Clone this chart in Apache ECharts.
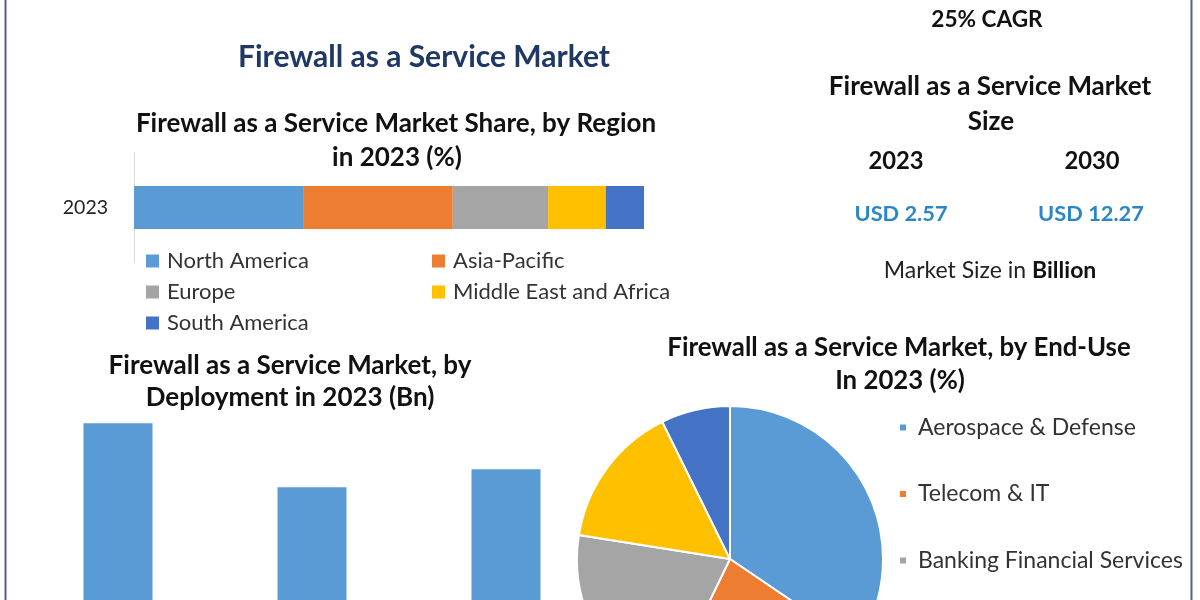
<!DOCTYPE html>
<html>
<head>
<meta charset="utf-8">
<script src="https://cdn.jsdelivr.net/npm/echarts@6/dist/echarts.min.js"></script>
<style>
html,body{margin:0;padding:0;background:#fff;}
#main{width:1200px;height:600px;}
</style>
</head>
<body>
<div id="main"></div>
<script>
// ---- data ----
var palette = ['#5b9bd5', '#ed7d31', '#a5a5a5', '#ffc000', '#4472c4'];

var regionYear = ['2023'];
var regionNames = ['North America', 'Asia-Pacific', 'Europe', 'Middle East and Africa', 'South America'];
var regionShare = [33.3, 29.2, 18.7, 11.3, 7.5];

var deployCategories = ['Cloud', 'On-Premise', 'Hybrid'];
var deployValues = [1.08, 0.69, 0.80];

var endUseNames = ['Aerospace & Defense', 'Telecom & IT', 'Banking Financial Services', 'Government', 'Others'];
var endUseShare = [34.5, 22.7, 20.3, 15.2, 7.3];

var marketYears = ['2023', '2030'];
var marketSizes = ['USD 2.57', 'USD 12.27'];
var cagrText = '25% CAGR';

// ---- chart ----
var chart = echarts.init(document.getElementById('main'));
var FONT = 'Lato';

function txt(text, x, y, size, weight, color, family) {
  return {
    type: 'text',
    x: x, y: y,
    style: {
      text: text,
      align: 'center',
      verticalAlign: 'middle',
      font: (weight || 'normal') + ' ' + size + 'px ' + (family || FONT),
      fill: color || '#111'
    },
    silent: true
  };
}

var series = [];
regionNames.forEach(function (name, i) {
  series.push({
    name: name,
    type: 'bar',
    stack: 'region',
    xAxisIndex: 0,
    yAxisIndex: 0,
    barWidth: 43,
    itemStyle: { color: palette[i] },
    data: [regionShare[i]]
  });
});
series.push({
  name: 'Deployment',
  type: 'bar',
  xAxisIndex: 1,
  yAxisIndex: 1,
  barWidth: 69,
  itemStyle: { color: '#5b9bd5' },
  data: deployValues
});
series.push({
  name: 'End-Use',
  type: 'pie',
  center: [730, 559],
  radius: 153,
  startAngle: 90,
  clockwise: true,
  label: { show: false },
  labelLine: { show: false },
  itemStyle: { borderColor: '#fff', borderWidth: 2 },
  data: endUseNames.map(function (n, i) {
    return { name: n, value: endUseShare[i], itemStyle: { color: palette[i] } };
  })
});

var option = {
  backgroundColor: '#fff',
  animation: false,
  color: palette,
  textStyle: { fontFamily: FONT },
  grid: [
    { left: 134, width: 510, top: 152.5, height: 110, containLabel: false },
    { left: 21, width: 582, top: 403.7, height: 196.3, containLabel: false }
  ],
  xAxis: [
    { type: 'value', gridIndex: 0, min: 0, max: 100, show: false },
    { type: 'category', gridIndex: 1, data: deployCategories, axisLabel: { show: false },
      axisLine: { show: false }, axisTick: { show: false } }
  ],
  yAxis: [
    { type: 'category', gridIndex: 0, data: regionYear,
      axisLine: { show: true, lineStyle: { color: '#d9d9d9', width: 1 } },
      axisTick: { show: false },
      axisLabel: { fontSize: 19.5, color: '#222', margin: 26, fontFamily: FONT } },
    { type: 'value', gridIndex: 1, min: 0, max: 1.2, show: false }
  ],
  legend: [
    {
      data: regionNames,
      left: 146, top: 250, width: 620,
      orient: 'horizontal',
      padding: 0,
      itemWidth: 13, itemHeight: 13, itemGap: 9,
      icon: 'rect',
      selectedMode: false,
      textStyle: { fontSize: 22, color: '#333', lineHeight: 21, width: 256, padding: [0, 0, 0, 3], fontFamily: FONT }
    },
    {
      data: endUseNames.slice(0, 3),
      left: 898, top: 415, orient: 'vertical',
      padding: 0,
      itemWidth: 8, itemHeight: 8, itemGap: 41.5,
      icon: 'rect',
      selectedMode: false,
      textStyle: { fontSize: 23, color: '#333', lineHeight: 25, padding: [0, 0, 0, 6], fontFamily: FONT }
    }
  ],
  series: series,
  graphic: [
    { type: 'rect', shape: { x: 4.5, y: 0, width: 2, height: 600 }, style: { fill: '#4c6280' }, silent: true },
    { type: 'rect', shape: { x: 1190.5, y: 0, width: 2, height: 600 }, style: { fill: '#4c6280' }, silent: true },
    txt('Firewall as a Service Market', 424, 57, 30, 'bold', '#1f3864'),
    txt('Firewall as a Service Market Share, by Region', 396, 124, 26, 'bold', '#111'),
    txt('in 2023 (%)', 397, 158, 26, 'bold', '#111'),
    txt('Firewall as a Service Market, by', 290, 366, 26, 'bold', '#111'),
    txt('Deployment in 2023 (Bn)', 290, 398, 26, 'bold', '#111'),
    txt('Firewall as a Service Market, by End-Use', 899, 348, 25.8, 'bold', '#111'),
    txt('In 2023 (%)', 900, 381, 25.8, 'bold', '#111'),
    txt(cagrText, 987, 20, 22.6, 'bold', '#111'),
    txt('Firewall as a Service Market', 990, 87, 26, 'bold', '#111'),
    txt('Size', 991, 122, 26, 'bold', '#111'),
    txt(marketYears[0], 896, 161, 23.8, 'bold', '#111'),
    txt(marketYears[1], 1092, 161, 23.8, 'bold', '#111'),
    txt(marketSizes[0], 901, 214, 21.8, 'bold', '#2a86c6'),
    txt(marketSizes[1], 1091, 214, 21.8, 'bold', '#2a86c6'),
    {
      type: 'text', x: 990, y: 271, silent: true,
      style: {
        text: '{a|Market Size in }{b|Billion}',
        align: 'center', verticalAlign: 'middle',
        rich: {
          a: { fontFamily: FONT, fontSize: 23, fill: '#222', color: '#222' },
          b: { fontFamily: FONT, fontSize: 23, fontWeight: 'bold', fill: '#111', color: '#111' }
        }
      }
    }
  ]
};
chart.setOption(option);
</script>
</body>
</html>
